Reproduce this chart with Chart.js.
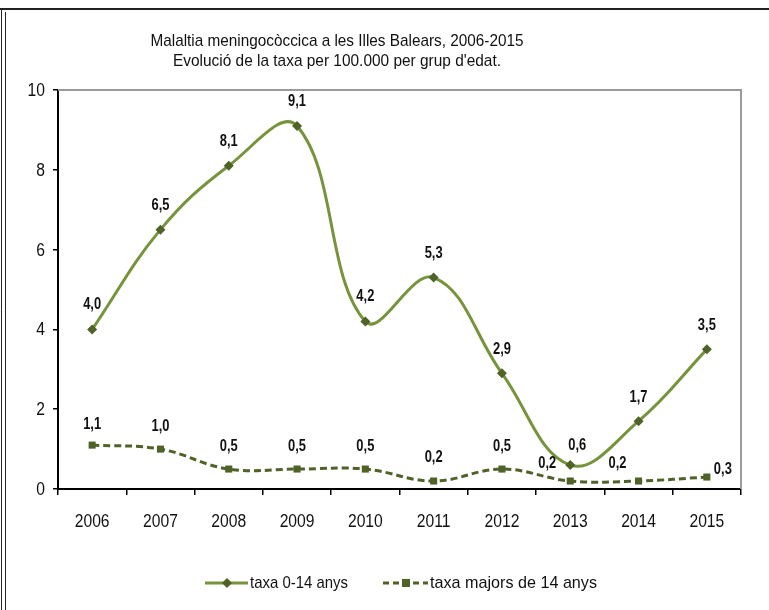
<!DOCTYPE html>
<html>
<head>
<meta charset="utf-8">
<script src="https://cdn.jsdelivr.net/npm/chart.js@4"></script>
<style>
html,body{margin:0;padding:0;background:#fff;}
#wrap{width:769px;height:610px;position:relative;}
</style>
</head>
<body>
<div id="wrap"><canvas id="c" width="769" height="610"></canvas></div>
<script>
const years = ['2006','2007','2008','2009','2010','2011','2012','2013','2014','2015'];
const taxa0_14 = [4.0, 6.5, 8.1, 9.1, 4.2, 5.3, 2.9, 0.6, 1.7, 3.5];
const taxaMajors14 = [1.1, 1.0, 0.5, 0.5, 0.5, 0.2, 0.5, 0.2, 0.2, 0.3];
const seriesNames = ['taxa 0-14 anys', 'taxa majors de 14 anys'];
const titleLines = ['Malaltia meningocòccica a les Illes Balears, 2006-2015', "Evolució de la taxa per 100.000 per grup d'edat."];
const yTicks = [0, 2, 4, 6, 8, 10];

const FONT = "'Liberation Sans', Arial, sans-serif";
const LIGHT = '#77933C';
const DARK = '#4F6228';
const SQUEEZE = 0.84;

// label offsets [dx, dy above]
const labelOffsets = [
  [[0,25],[0,24],[0,24],[0,25],[0,25],[0,24],[0,24],[7,20],[0,24],[0,24]],
  [[0,21],[0,23],[0,23],[0,23],[0,23],[0,24],[0,23],[-23,18],[-21,18],[16,8]]
];

const fmt = v => v.toFixed(1).replace('.', ',');

function drawText(ctx, text, x, y, font, opts) {
  opts = opts || {};
  ctx.save();
  ctx.font = font;
  const w = ctx.measureText(text).width;
  const sx = opts.width ? opts.width / w : (opts.sx || SQUEEZE);
  ctx.translate(x, y);
  ctx.scale(sx, 1);
  ctx.textAlign = opts.align || 'center';
  ctx.textBaseline = 'middle';
  ctx.fillText(text, 0, 0);
  ctx.restore();
}

const decorPlugin = {
  id: 'decor',
  beforeDraw(chart) {
    const ctx = chart.ctx;
    ctx.save();
    ctx.fillStyle = '#fff';
    ctx.fillRect(0, 0, chart.width, chart.height);
    ctx.strokeStyle = '#222';
    ctx.lineWidth = 2;
    ctx.beginPath(); ctx.moveTo(0, 9); ctx.lineTo(769, 9); ctx.stroke();
    ctx.lineWidth = 1;
    ctx.beginPath(); ctx.moveTo(1.5, 9); ctx.lineTo(1.5, 610); ctx.stroke();
    ctx.beginPath(); ctx.moveTo(5.5, 12); ctx.lineTo(5.5, 610); ctx.stroke();
    ctx.restore();
  },
  beforeDatasetsDraw(chart) {
    const ctx = chart.ctx;
    const a = chart.chartArea;
    ctx.save();
    ctx.strokeStyle = '#9a9a9a';
    ctx.lineWidth = 2;
    ctx.beginPath();
    ctx.moveTo(a.left, a.top);
    ctx.lineTo(a.right, a.top);
    ctx.lineTo(a.right, a.bottom);
    ctx.stroke();
    ctx.restore();
  },
  afterDatasetsDraw(chart) {
    const ctx = chart.ctx;
    ctx.save();
    ctx.fillStyle = '#111';
    const xs = chart.scales.x, ys = chart.scales.y;
    years.forEach((yr, i) => {
      drawText(ctx, yr, xs.getPixelForTick(i), 522, "18px " + FONT, { sx: 0.87 });
    });
    yTicks.forEach(v => {
      drawText(ctx, String(v), 45, ys.getPixelForValue(v) + 1, "18px " + FONT, { sx: 0.87, align: 'right' });
    });
    chart.data.datasets.forEach((ds, di) => {
      const meta = chart.getDatasetMeta(di);
      meta.data.forEach((pt, i) => {
        const off = labelOffsets[di][i];
        drawText(ctx, fmt(ds.data[i]), pt.x + off[0], pt.y - off[1], "bold 17px " + FONT, { sx: 0.76 });
      });
    });
    drawText(ctx, titleLines[0], 337, 41, "17px " + FONT, { width: 373 });
    drawText(ctx, titleLines[1], 337, 61, "17px " + FONT, { width: 328 });
    const ly = 583;
    ctx.strokeStyle = LIGHT; ctx.lineWidth = 3;
    ctx.beginPath(); ctx.moveTo(205, ly); ctx.lineTo(248, ly); ctx.stroke();
    ctx.fillStyle = DARK;
    ctx.beginPath(); ctx.moveTo(227, ly - 5); ctx.lineTo(232, ly); ctx.lineTo(227, ly + 5); ctx.lineTo(222, ly); ctx.closePath(); ctx.fill();
    ctx.strokeStyle = DARK; ctx.setLineDash([6, 4]);
    ctx.beginPath(); ctx.moveTo(383, ly); ctx.lineTo(428, ly); ctx.stroke();
    ctx.setLineDash([]);
    ctx.fillRect(402, ly - 4, 8, 8);
    ctx.fillStyle = '#111';
    drawText(ctx, seriesNames[0], 250, ly, "17px " + FONT, { width: 98, align: 'left' });
    drawText(ctx, seriesNames[1], 430, ly, "17px " + FONT, { width: 167, align: 'left' });
    ctx.restore();
  }
};

new Chart(document.getElementById('c'), {
  type: 'line',
  data: {
    labels: years,
    datasets: [
      {
        label: seriesNames[0],
        data: taxa0_14,
        borderColor: LIGHT,
        borderWidth: 3,
        tension: 0.4,
        pointStyle: 'rectRot',
        pointRadius: 5,
        pointBackgroundColor: DARK,
        pointBorderColor: DARK,
        pointBorderWidth: 0,
        clip: false
      },
      {
        label: seriesNames[1],
        data: taxaMajors14,
        borderColor: DARK,
        borderWidth: 3,
        borderDash: [7, 4],
        tension: 0.4,
        pointStyle: 'rect',
        pointRadius: 5,
        pointBackgroundColor: DARK,
        pointBorderColor: DARK,
        pointBorderWidth: 0,
        clip: false
      }
    ]
  },
  options: {
    responsive: false,
    animation: false,
    devicePixelRatio: 1,
    layout: { padding: { top: 90, right: 28, left: 0, bottom: 0 } },
    plugins: {
      legend: { display: false },
      title: { display: false },
      tooltip: { enabled: false }
    },
    scales: {
      x: {
        offset: true,
        afterFit(s) { s.height = 121; },
        grid: { offset: true, drawOnChartArea: false, color: '#000', tickLength: 6, lineWidth: 1.5 },
        border: { color: '#000', width: 2 },
        ticks: { color: 'rgba(0,0,0,0)', font: { family: FONT, size: 18 }, padding: 16, maxRotation: 0 }
      },
      y: {
        min: 0, max: 10,
        afterFit(s) { s.width = 58; },
        afterBuildTicks(s) { s.ticks = yTicks.map(v => ({ value: v })); },
        grid: { drawOnChartArea: false, color: '#000', tickLength: 5, lineWidth: 1.5 },
        border: { color: '#000', width: 2 },
        ticks: { color: 'rgba(0,0,0,0)', font: { family: FONT, size: 18 }, padding: 8 }
      }
    }
  },
  plugins: [decorPlugin]
});
</script>
</body>
</html>
